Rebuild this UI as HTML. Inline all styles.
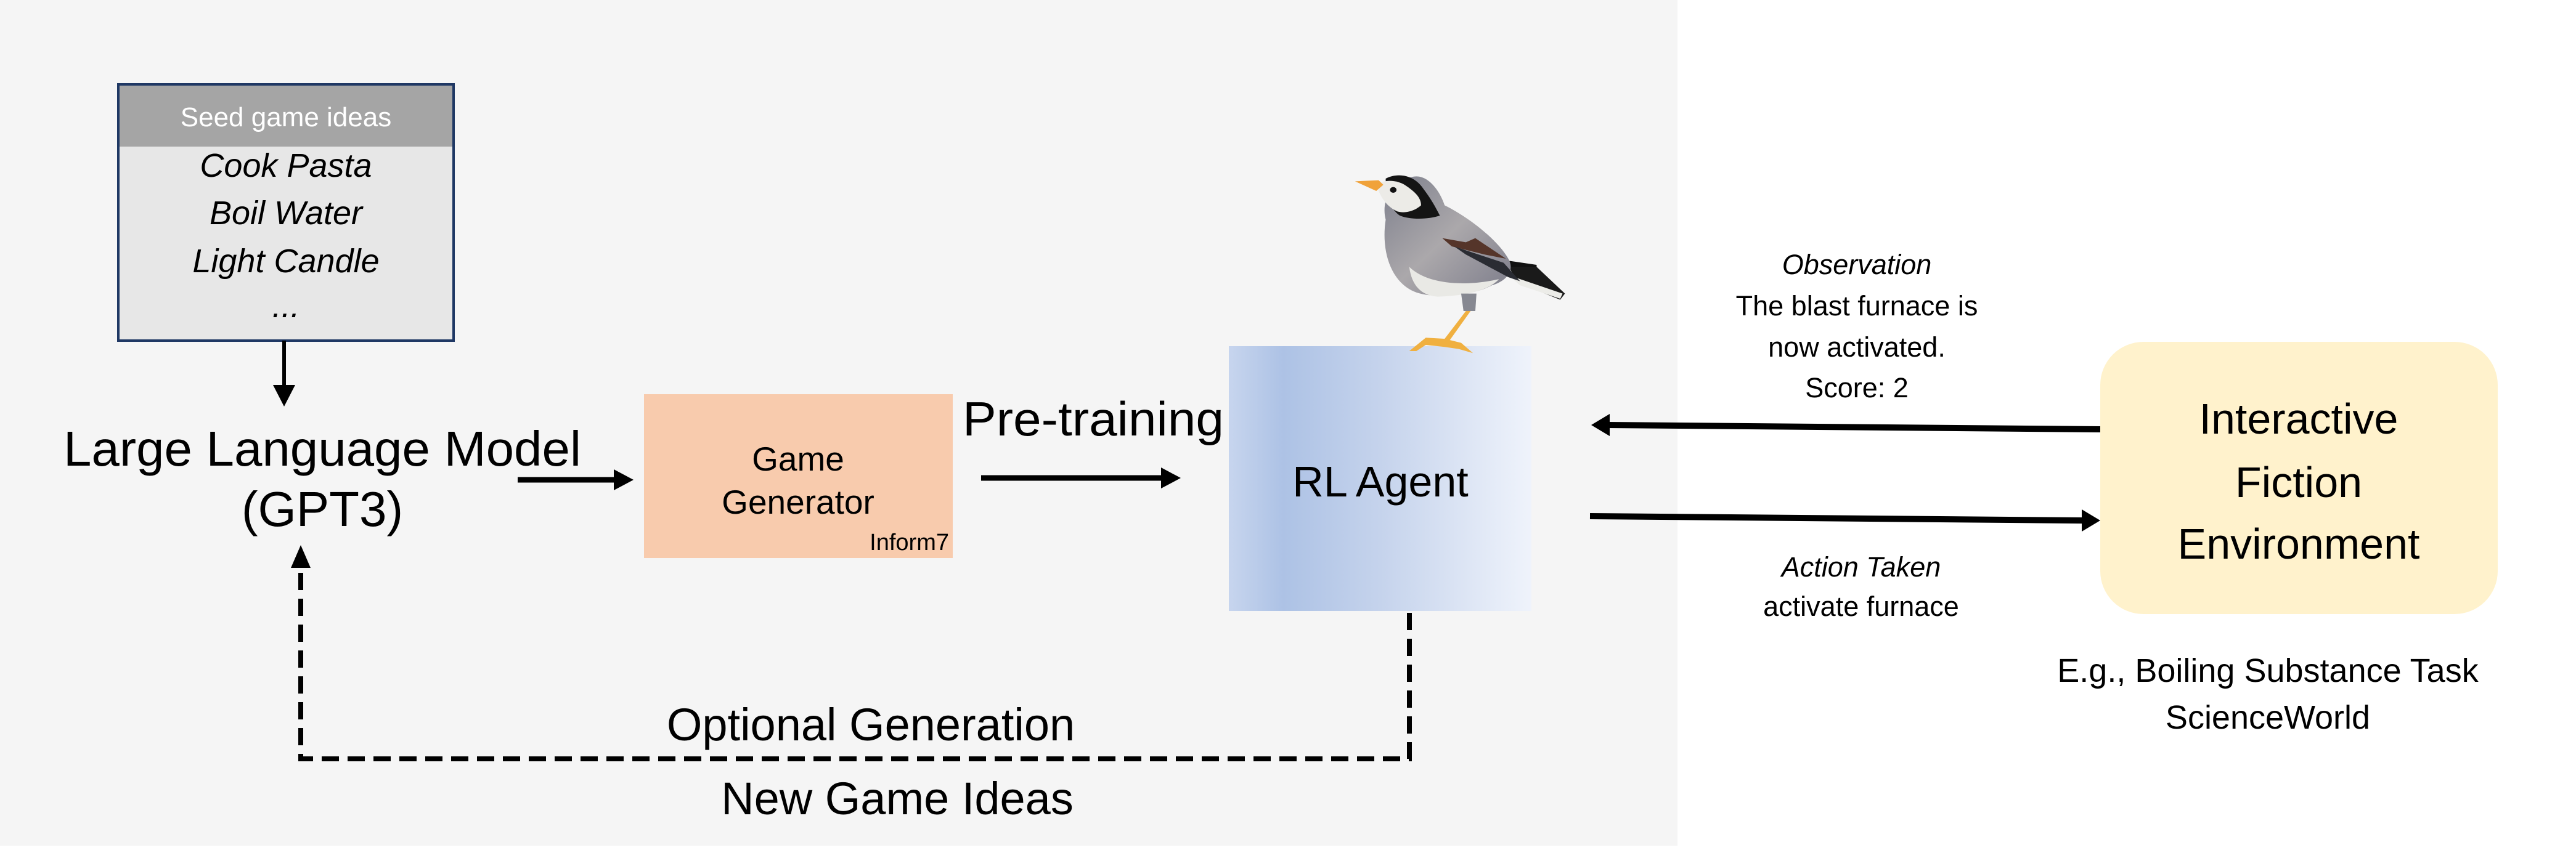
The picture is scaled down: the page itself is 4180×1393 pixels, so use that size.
<!DOCTYPE html>
<html><head><meta charset="utf-8"><style>
html,body{margin:0;padding:0;background:#fff;}
svg{display:block;}
text{font-family:"Liberation Sans",Arial,sans-serif;fill:#000;}
</style></head><body>
<svg width="4180" height="1393" viewBox="0 0 4180 1393" xmlns="http://www.w3.org/2000/svg">
<defs>
<linearGradient id="rl" x1="0" y1="0" x2="1" y2="0">
<stop offset="0" stop-color="#c7d5ee"/>
<stop offset="0.18" stop-color="#adc2e5"/>
<stop offset="0.5" stop-color="#c5d3ec"/>
<stop offset="1" stop-color="#eff3fb"/>
</linearGradient>
<linearGradient id="body" x1="0" y1="0" x2="1" y2="1">
<stop offset="0" stop-color="#7d7f8c"/>
<stop offset="0.5" stop-color="#aba8ab"/>
<stop offset="1" stop-color="#7c7c8a"/>
</linearGradient>
</defs>
<rect x="0" y="0" width="2722" height="1373" fill="#f5f5f5"/>

<!-- seed box -->
<rect x="192" y="137" width="544" height="416" fill="#e7e7e7" stroke="#1f3864" stroke-width="4"/>
<rect x="194" y="139" width="540" height="99" fill="#a5a5a5"/>
<text x="464" y="205" font-size="44" fill="#fff" style="fill:#fff" text-anchor="middle">Seed game ideas</text>
<g font-style="italic" font-size="54" text-anchor="middle">
<text x="464" y="287">Cook Pasta</text>
<text x="464" y="364">Boil Water</text>
<text x="464" y="442">Light Candle</text>
<text x="464" y="515">...</text>
</g>
<line x1="461" y1="553" x2="461" y2="625" stroke="#000" stroke-width="6"/>
<path d="M443,625 L479,625 L461,660 z" fill="#000"/>

<text x="523" y="756" font-size="80" text-anchor="middle" textLength="840" lengthAdjust="spacingAndGlyphs">Large Language Model</text>
<text x="523" y="854" font-size="80" text-anchor="middle">(GPT3)</text>

<line x1="840" y1="779" x2="1000" y2="779" stroke="#000" stroke-width="9"/>
<path d="M996,762 L1028,779 L996,796 z" fill="#000"/>

<rect x="1045" y="640" width="501" height="266" fill="#f8cbad"/>
<text x="1295" y="764" font-size="55" text-anchor="middle">Game</text>
<text x="1295" y="834" font-size="55" text-anchor="middle">Generator</text>
<text x="1540" y="893" font-size="38" text-anchor="end">Inform7</text>

<text x="1562" y="707" font-size="78" textLength="424" lengthAdjust="spacingAndGlyphs">Pre-training</text>
<line x1="1592" y1="776" x2="1890" y2="776" stroke="#000" stroke-width="9"/>
<path d="M1884,759 L1916,776 L1884,793 z" fill="#000"/>

<rect x="1994" y="562" width="491" height="430" fill="url(#rl)"/>
<text x="2240" y="806" font-size="70" text-anchor="middle">RL Agent</text>

<!-- bird -->
<g transform="translate(1950,200) scale(0.3827,0.3333)">
<path d="M1290,670 L1420,700 L1540,830 L1520,860 L1390,800 L1330,760 z" fill="#1a1a1a"/>
<path d="M1300,740 L1530,830 L1520,855 L1350,790 z" fill="#ecece8"/>
<path d="M1300,670 L1420,690 L1420,700 L1300,700 z" fill="#111"/>
<path d="M780,470 C760,380 800,280 900,260 C960,250 1010,330 1030,400 C1120,450 1250,560 1300,660 C1330,720 1290,770 1230,790 C1150,840 980,860 900,820 C800,770 760,620 780,470 z" fill="url(#body)"/>
<path d="M880,700 C950,780 1100,800 1260,760 C1230,800 1150,840 1000,845 C930,840 890,790 880,700 z" fill="#e9e9e5"/>
<path d="M1020,560 L1120,580 L1160,560 L1290,660 L1200,640 L1060,600 z" fill="#55352a"/>
<path d="M1070,600 L1280,680 L1350,770 L1300,750 L1120,640 z" fill="#2a2c33"/>
<path d="M780,270 C830,240 900,250 940,320 C980,380 1000,430 1010,450 C960,470 880,470 840,450 C800,420 780,350 780,270 z" fill="#141414"/>
<path d="M740,300 C780,270 830,280 860,300 C900,330 930,360 930,400 C900,430 860,440 830,430 C790,410 760,370 740,300 z" fill="#ecebe7"/>
<circle cx="812" cy="325" r="14" fill="#111"/>
<path d="M650,283 L750,278 L770,300 L740,330 z" fill="#f0a23a"/>
<path d="M1100,830 L1165,830 L1160,915 L1110,915 z" fill="#868891"/>
<path d="M1120,915 L1140,915 L1050,1060 L1030,1050 z" fill="#f0b040"/>
<path d="M880,1110 L950,1045 L1030,1050 L1100,1070 L1150,1120 L1090,1100 L1030,1090 L950,1080 L910,1110 z" fill="#f0b040"/>
</g>

<!-- dashed loop -->
<path d="M2287,995 L2287,1232 L488,1232 L488,920" fill="none" stroke="#000" stroke-width="8" stroke-dasharray="28,14"/>
<path d="M472,922 L504,922 L488,885 z" fill="#000"/>
<text x="1413" y="1202" font-size="74" text-anchor="middle">Optional Generation</text>
<text x="1456" y="1322" font-size="74" text-anchor="middle">New Game Ideas</text>

<!-- right arrows -->
<line x1="3408" y1="697" x2="2608" y2="690" stroke="#000" stroke-width="10"/>
<path d="M2612,672 L2582,690 L2612,708 z" fill="#000"/>
<line x1="2580" y1="838" x2="3380" y2="845" stroke="#000" stroke-width="10"/>
<path d="M3378,827 L3408,845 L3378,863 z" fill="#000"/>

<g font-size="45" text-anchor="middle">
<text x="3013" y="445" font-style="italic">Observation</text>
<text x="3013" y="512">The blast furnace is</text>
<text x="3013" y="579">now activated.</text>
<text x="3013" y="645">Score: 2</text>
<text x="3020" y="936" font-style="italic">Action Taken</text>
<text x="3020" y="1000">activate furnace</text>
</g>

<rect x="3408" y="555" width="645" height="442" rx="70" ry="70" fill="#fff2cc"/>
<g font-size="70" text-anchor="middle">
<text x="3730" y="704">Interactive</text>
<text x="3730" y="807">Fiction</text>
<text x="3730" y="907">Environment</text>
</g>
<g font-size="54" text-anchor="middle">
<text x="3680" y="1107">E.g., Boiling Substance Task</text>
<text x="3680" y="1183">ScienceWorld</text>
</g>
</svg>
</body></html>
